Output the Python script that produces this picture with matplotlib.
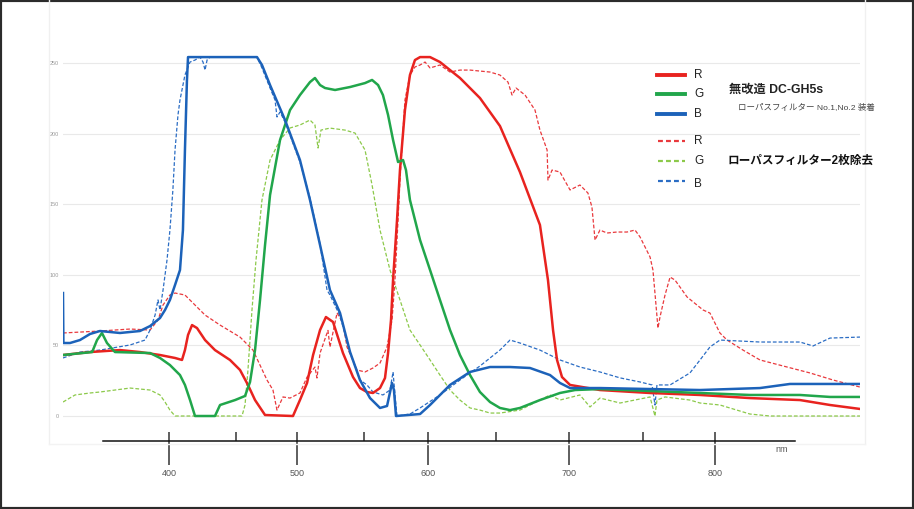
import numpy as np
import matplotlib
matplotlib.use('Agg')
import matplotlib.pyplot as plt
from matplotlib.lines import Line2D
from matplotlib.patches import Rectangle

plt.rcParams['font.family'] = ['Liberation Sans', 'Noto Sans CJK JP', 'DejaVu Sans']

# ---- data (wavelength nm, value 0-255) ----
# solid: 無改造 DC-GH5s (ローパスフィルター装着)
r_nm = [320, 340.4, 363.0, 378.1, 393.2, 404.5, 409.7, 411.9, 414.2, 417.2, 420.9, 426.9, 434.3,
        445.5, 453.3, 459.8, 465.6, 473.8, 496.7, 502.2, 507.5, 512.0, 517.2, 521.6, 526.9, 534.3,
        541.8, 547.0, 552.3, 557.0, 562.5, 566.4, 568.8, 571.1, 572.7, 575.8, 578.1, 582.0, 585.9,
        589.8, 593.8, 601.5, 608.8, 616.2, 623.5, 638.2, 652.7, 666.4, 680.1, 685.6, 689.1, 691.8,
        695.2, 700.7, 720.9, 754.9, 789.6, 824.1, 858.6, 879.3, 900]
r_val = [43.2, 45.3, 46.7, 45.3, 43.2, 41.1, 39.7, 46.7, 57.4, 64.4, 62.3, 53.8, 46.7,
         39.7, 32.6, 22.0, 11.3, 0.7, 0, 11.3, 23.4, 43.2, 60.9, 70.1, 66.6, 44.6,
         27.6, 19.8, 17.0, 16.3, 19.8, 26.9, 44.6, 68.0, 96.3, 138.8, 174.2, 216.7, 241.5,
         252.1, 254.2, 254.2, 250.7, 245.0, 239.4, 225.2, 205.4, 172.8, 135.3, 96.3, 60.6, 39.7,
         27.6, 22.0, 18.4, 16.3, 14.9, 12.7, 11.3, 7.8, 5.0]

g_nm = [320, 342.0, 345.7, 349.4, 353.2, 359.2, 385.7, 393.2, 400.7, 408.2, 411.9, 415.7, 419.4,
        434.3, 438.1, 449.3, 457.4, 461.5, 465.6, 469.7, 473.8, 477.9, 486.1, 494.3, 502.2, 509.7,
        513.4, 517.2, 520.9, 528.4, 539.6, 550.8, 556.3, 561.0, 564.8, 568.8, 572.7, 576.6, 580.5,
        582.8, 585.9, 593.8, 601.5, 608.8, 616.2, 623.5, 630.9, 638.2, 645.6, 652.7, 659.6, 666.4,
        680.1, 693.8, 704.1, 720.9, 754.9, 789.6, 824.1, 858.6, 879.3, 900]
g_val = [43.2, 45.3, 53.8, 58.8, 51.7, 45.3, 44.6, 41.1, 36.1, 29.0, 22.0, 11.3, 0,
         0, 7.8, 11.3, 14.2, 24.1, 46.7, 82.2, 121.1, 156.5, 195.5, 216.7, 227.3, 236.5,
         239.4, 234.4, 232.3, 230.9, 233.0, 235.8, 238.0, 234.4, 227.3, 213.2, 195.5, 179.9, 181.3,
         174.2, 153.0, 124.6, 103.4, 82.2, 60.9, 43.2, 29.0, 17.0, 9.9, 5.7, 4.2, 5.7,
         11.3, 16.3, 18.4, 19.1, 17.7, 16.3, 14.9, 14.9, 13.5, 13.5]

b_nm = [320, 320.3, 325.3, 332.8, 340.4, 347.9, 363.0, 378.1, 385.7, 393.2, 397.0, 400.7, 404.5,
        408.2, 410.4, 411.9, 413.4, 414.2, 467.2, 471.3, 477.9, 490.2, 502.2, 509.7, 517.2, 524.6,
        532.1, 539.6, 547.0, 554.7, 562.5, 568.0, 571.9, 573.4, 575.0, 593.8, 601.5, 616.2, 630.9,
        645.6, 659.6, 673.3, 687.0, 693.8, 700.7, 720.9, 754.9, 789.6, 831.0, 851.7, 900]
b_val = [87.1, 51.7, 51.7, 53.8, 58.1, 60.2, 58.8, 60.2, 63.7, 69.4, 75.1, 82.2, 92.8,
         103.4, 131.7, 188.4, 238.0, 254.2, 254.2, 248.6, 234.4, 209.6, 181.3, 153.0, 121.1, 89.2,
         73.0, 45.3, 25.5, 12.7, 5.7, 7.1, 23.4, 18.4, 0, 1.4, 7.8, 22.0, 31.2,
         34.7, 34.7, 34.0, 29.0, 23.4, 19.8, 19.8, 19.1, 18.4, 19.8, 22.7, 22.7]

# dashed: ローパスフィルター2枚除去
rd_nm = [320, 347.9, 370.6, 385.7, 391.7, 395.5, 400.7, 404.5, 411.9, 419.4, 426.9, 438.1, 453.3,
         463.9, 475.4, 480.3, 483.6, 488.5, 494.3, 502.2, 507.5, 513.4, 514.9, 517.2, 523.1, 524.6,
         529.9, 534.3, 537.3, 544.8, 550.8, 557.0, 562.5, 568.0, 571.9, 574.2, 576.6, 578.1, 580.5,
         582.0, 585.9, 589.8, 593.8, 597.7, 601.5, 608.8, 616.2, 623.5, 630.9, 638.2, 645.6, 652.7,
         658.2, 661.0, 663.7, 669.9, 676.7, 680.1, 685.0, 685.6, 688.4, 693.8, 700.7, 707.4, 712.8,
         715.5, 717.6, 720.9, 725.7, 732.4, 739.2, 744.6, 748.0, 754.9, 756.9, 758.3, 760.4, 761.8,
         765.3, 768.8, 772.2, 780.6, 791.7, 796.5, 803.4, 808.3, 819.3, 831.0, 849.7, 865.5, 881.4, 900]
rd_val = [58.8, 60.2, 61.6, 60.9, 68.0, 78.6, 85.7, 87.1, 85.7, 78.6, 71.5, 64.4, 55.9,
          46.7, 25.5, 18.4, 4.2, 13.5, 12.7, 16.3, 27.6, 34.7, 26.9, 44.6, 60.6, 48.9,
          73.0, 65.9, 48.9, 32.6, 31.2, 34.0, 37.5, 48.9, 68.0, 96.3, 138.8, 167.1, 202.5,
          223.8, 241.5, 247.2, 248.6, 250.7, 246.5, 248.6, 243.6, 245.0, 245.0, 244.3, 243.6, 241.5,
          236.5, 227.3, 232.3, 227.3, 216.7, 202.5, 188.4, 167.1, 174.2, 172.8, 160.1, 163.6, 157.9,
          148.0, 124.6, 131.7, 129.6, 130.3, 130.3, 131.7, 126.8, 112.6, 103.4, 87.1, 62.3, 70.1,
          85.7, 98.4, 96.3, 84.3, 75.1, 72.9, 58.8, 53.8, 46.7, 39.7, 34.7, 30.5, 25.5, 20.5]

gd_nm = [320, 329.1, 340.4, 347.9, 370.6, 385.7, 393.2, 397.0, 400.7, 404.5, 454.9, 457.4, 459.8,
         463.1, 466.4, 471.3, 477.9, 486.1, 494.3, 502.2, 509.7, 513.4, 515.7, 517.9, 524.6, 535.8,
         543.3, 550.8, 556.3, 562.5, 570.3, 578.1, 585.9, 593.8, 601.5, 608.8, 616.2, 623.5, 630.9,
         638.2, 645.6, 652.7, 666.4, 680.1, 687.0, 693.8, 707.4, 714.2, 720.9, 734.5, 754.9, 758.3,
         759.7, 765.3, 782.6, 789.6, 803.4, 824.1, 837.9, 900]
gd_val = [9.9, 14.9, 16.3, 17.0, 19.8, 18.4, 14.9, 9.9, 4.2, 0, 0, 7.8, 32.6,
          75.1, 110.5, 153.0, 181.3, 195.5, 204.0, 206.1, 209.6, 206.1, 189.8, 202.5, 203.9, 202.5,
          200.4, 188.4, 163.6, 131.7, 103.4, 82.2, 60.9, 50.3, 39.7, 29.0, 18.4, 11.3, 5.7,
          4.2, 2.1, 2.1, 4.2, 11.3, 14.9, 11.3, 14.9, 6.4, 12.7, 9.2, 13.5, 0,
          11.3, 13.5, 11.3, 9.2, 7.8, 1.4, 0, 0]

bd_nm = [320, 332.8, 347.9, 370.6, 381.9, 385.7, 389.5, 391.7, 393.2, 395.5, 398.5, 400.7, 402.9,
         404.5, 406.7, 408.2, 411.9, 415.7, 419.4, 423.1, 425.4, 426.9, 428.4, 430.6, 467.2, 471.3,
         477.9, 482.0, 483.6, 486.1, 490.2, 502.2, 509.7, 517.2, 522.4, 524.6, 532.1, 539.6, 547.0,
         552.3, 557.0, 564.8, 570.3, 572.7, 574.2, 575.8, 585.9, 593.8, 608.8, 623.5, 638.2, 652.7,
         659.6, 666.4, 680.1, 693.8, 707.4, 720.9, 734.5, 748.0, 756.3, 758.3, 759.7, 768.8, 782.6,
         789.6, 796.5, 803.4, 831.0, 858.6, 867.6, 879.3, 900]
bd_val = [41.1, 45.3, 46.7, 50.3, 53.8, 60.9, 71.5, 82.2, 75.1, 89.2, 110.5, 131.7, 160.1,
          188.4, 213.2, 223.8, 241.5, 250.7, 252.1, 254.2, 250.7, 245.0, 252.1, 254.2, 254.2, 246.5,
          232.3, 223.8, 211.8, 215.3, 208.2, 179.9, 154.4, 121.8, 89.2, 85.7, 70.8, 45.3, 25.5,
          22.0, 17.0, 14.9, 18.4, 31.2, 14.9, 0, 1.4, 5.7, 14.9, 25.5, 35.4, 46.7,
          53.8, 51.7, 46.7, 39.7, 34.7, 31.2, 27.0, 24.1, 22.0, 7.8, 22.0, 22.0, 30.5,
          39.7, 48.9, 53.8, 52.4, 52.4, 49.6, 55.2, 55.9]

x_ticks = [400, 500, 600, 700, 800]
y_ticks = [0, 50, 100, 150, 200, 250]

# the printed nm axis is not evenly spaced; calibrate it piecewise
scale_nm = [320, 400, 450, 500, 550, 600, 650, 700, 750, 800, 900]
scale_pos = [0, 106, 173, 234, 301, 365, 433, 506, 580, 652, 797]


def fwd(x):
    return np.interp(x, scale_nm, scale_pos)


def inv(p):
    return np.interp(p, scale_pos, scale_nm)


W, H = 914, 509
fig = plt.figure(figsize=(W / 100, H / 100), dpi=100)
ax = fig.add_axes([63 / W, 68 / H, 797 / W, 401 / H])
ax.set_xscale('function', functions=(fwd, inv))

red, green, blue = '#e8231f', '#21a64b', '#1c62b9'
red_d, green_d, blue_d = '#e9393d', '#8cc94a', '#2b6dc4'

dash = dict(lw=0.9, linestyle=(0, (3, 1.6)))
ax.plot(gd_nm, gd_val, color=green_d, **dash)
ax.plot(rd_nm, rd_val, color=red_d, **dash)
ax.plot(bd_nm, bd_val, color=blue_d, **dash)
ax.plot(r_nm, r_val, color=red, lw=1.8)
ax.plot(g_nm, g_val, color=green, lw=1.8)
ax.plot(b_nm, b_val, color=blue, lw=1.8)

ax.set_xlim(320, 900)
ax.set_ylim(-17.7, 266.3)

for s in ['top', 'right', 'left']:
    ax.spines[s].set_visible(False)
ax.spines['bottom'].set_bounds(350, 855)
ax.spines['bottom'].set_linewidth(1.1)
ax.spines['bottom'].set_color('#111')

ax.set_xticks(x_ticks)
ax.set_xticks(np.arange(400, 801, 50), minor=True)
ax.xaxis.remove_overlapping_locs = False
ax.tick_params(axis='x', which='major', direction='out', length=17, width=1.1,
               color='#333', labelsize=6.5, labelcolor='#555', pad=3)
ax.tick_params(axis='x', which='minor', direction='in', length=6.5, width=1.1, color='#333')

ax.set_yticks(y_ticks)
ax.tick_params(axis='y', length=0, labelsize=4, labelcolor='#999', pad=3)
ax.grid(axis='y', color='#e9e9e9', lw=0.8)
ax.set_axisbelow(True)

fig.text(775 / W, 1 - 449 / H, 'nm', fontsize=6.5, color='#555', va='center')


def fx(x):
    return x / W


def fy(y):
    return 1 - y / H


# faint panel edges and outer frame
for x0 in [49, 865]:
    fig.add_artist(Line2D([fx(x0), fx(x0)], [fy(0), fy(444)], color='#f0f0f0', lw=1))
fig.add_artist(Line2D([fx(49), fx(865)], [fy(444), fy(444)], color='#f3f3f3', lw=1))
fig.add_artist(Rectangle((0, 0), 1, 1, transform=fig.transFigure, fill=False,
                         edgecolor='#2b2b2b', lw=3))

# legend
leg = [(75, red, '-', 'R'), (94, green, '-', 'G'), (114, blue, '-', 'B'),
       (141, red_d, '--', 'R'), (161, green_d, '--', 'G'), (181, blue_d, '--', 'B')]
for y, c, ls, lab in leg:
    if ls == '-':
        fig.add_artist(Line2D([fx(657), fx(685)], [fy(y), fy(y)], color=c, lw=2.8))
    else:
        fig.add_artist(Line2D([fx(658), fx(685)], [fy(y), fy(y)], color=c, lw=1.6,
                              linestyle=(0, (2.2, 1.4))))
    fig.text(fx(694), fy(y + (3 if lab == 'B' and ls == '--' else 0)), lab,
             fontsize=8.5, color='#222', va='center')

fig.text(fx(729), fy(90), '無改造 DC-GH5s', fontsize=8.8, fontweight='bold',
         color='#222', va='center')
fig.text(fx(738), fy(108), 'ローパスフィルター No.1,No.2 装着', fontsize=6.1,
         color='#444', va='center')
fig.text(fx(728), fy(161), 'ローパスフィルター2枚除去', fontsize=8.4, fontweight='bold',
         color='#111', va='center')

fig.savefig('out.png', dpi=100)
